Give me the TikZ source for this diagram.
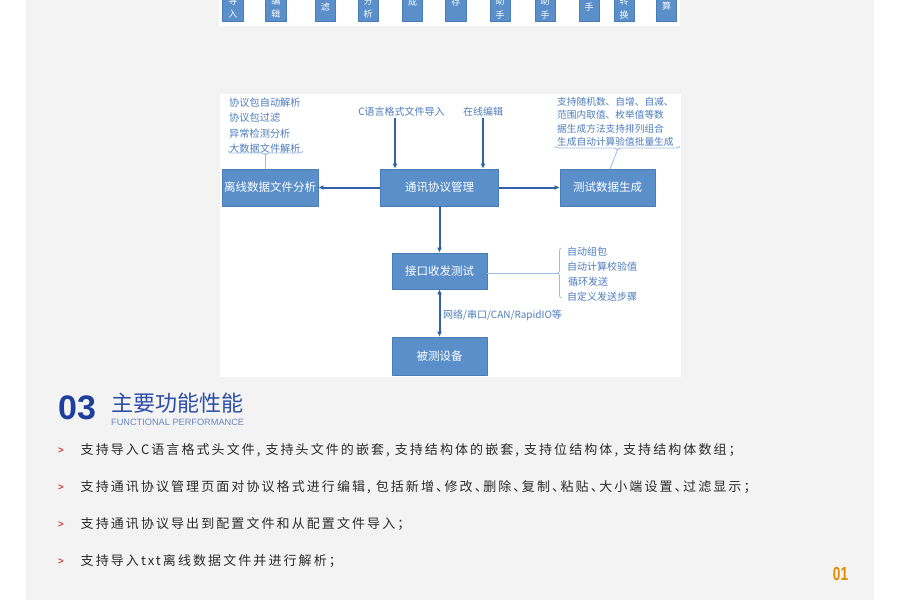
\documentclass[tikz,border=0pt]{standalone}
\usepackage{fontspec}
\setmainfont{Noto Sans CJK SC}
\newfontfamily\arialfont{Liberation Sans}
\newfontfamily\bodyfont[LetterSpace=16]{Noto Sans CJK SC}
\usetikzlibrary{arrows.meta,decorations.pathreplacing}
\definecolor{pagegray}{HTML}{F3F3F3}
\definecolor{boxfill}{HTML}{5B8FCA}
\definecolor{boxline}{HTML}{4A7DB8}
\definecolor{arrowblue}{HTML}{2F63A5}
\definecolor{labelblue}{HTML}{4D7DBD}
\definecolor{bracketblue}{HTML}{9DBBE0}
\definecolor{titleblue}{HTML}{1F3F9C}
\definecolor{headblue}{HTML}{2D4EA6}
\definecolor{subblue}{HTML}{6A86C4}
\definecolor{bulletred}{HTML}{D23A3A}
\definecolor{bodygray}{HTML}{2B2B2B}
\definecolor{pageorange}{HTML}{E38B00}
\newcommand{\dunhao}{、\kern-4.5pt}
\begin{document}
\begin{tikzpicture}[x=1pt,y=-1pt,
  blockbox/.style={draw=boxline, fill=boxfill, text=white, line width=0.8pt, inner sep=0pt, font=\fontsize{11.5}{14}\selectfont, minimum height=37pt},
  mainarrow/.style={draw=arrowblue, line width=2pt, -{Latex[length=5pt,width=5pt]}},
  listtext/.style={text=labelblue, inner sep=0pt, anchor=west, font=\fontsize{10}{12}\selectfont},
  bracketline/.style={draw=bracketblue, line width=0.8pt},
  bracebr/.style={bracketline, decorate, decoration={brace, amplitude=4pt}},
  striptext/.style={text=white, inner sep=0pt, font=\fontsize{9}{10}\selectfont},
  bullettext/.style={text=bodygray, inner sep=0pt, anchor=west, font=\bodyfont\fontsize{13}{16}\selectfont},
  bulletmark/.style={text=bulletred, inner sep=0pt, font=\arialfont\bfseries\fontsize{9.5}{10}\selectfont}
]
\useasboundingbox (0,0) rectangle (900,600);
\clip (0,0) rectangle (900,600);
\fill[white] (0,0) rectangle (900,600);
\fill[pagegray] (26,0) rectangle (874,600);

% top strip
\fill[white] (219,0) rectangle (680,26);
\foreach \xa/\xb in {222.7/243, 265.7/286, 315/335.7, 358/378, 402.7/422.7, 445.7/466, 490/510, 535/555, 579/599, 614/634, 656.7/676.7}
  \filldraw[fill=boxfill, draw=boxline, line width=0.5pt] (\xa,-5) rectangle (\xb,21.7);
\node[striptext] (s1a) at (232.8,1) {导};
\node[striptext] (s1b) at (232.8,14.5) {入};
\node[striptext] (s2a) at (275.8,1) {编};
\node[striptext] (s2b) at (275.8,14.5) {辑};
\node[striptext] (s3) at (325.3,7) {滤};
\node[striptext] (s4a) at (368,1) {分};
\node[striptext] (s4b) at (368,14.5) {析};
\node[striptext] (s5) at (412.7,2) {成};
\node[striptext] (s6) at (455.8,2) {存};
\node[striptext] (s7a) at (500,1) {助};
\node[striptext] (s7b) at (500,15) {手};
\node[striptext] (s8a) at (545,1) {助};
\node[striptext] (s8b) at (545,15) {手};
\node[striptext] (s9) at (589,7) {手};
\node[striptext] (s10a) at (624,1.5) {转};
\node[striptext] (s10b) at (624,15) {换};
\node[striptext] (s11) at (666.7,6) {算};

% diagram panel
\fill[white] (220,94) rectangle (681,377);

\node[blockbox, minimum width=96pt] (off) at (270,187.5) {离线数据文件分析};
\node[blockbox, minimum width=118pt] (mgr) at (439.5,187.5) {通讯协议管理};
\node[blockbox, minimum width=95pt] (gen) at (607.5,187.5) {测试数据生成};
\node[blockbox, minimum width=95pt, minimum height=36pt] (io) at (439.5,271) {接口收发测试};
\node[blockbox, minimum width=95pt, minimum height=38pt] (dut) at (439.5,356) {被测设备};

\node[listtext, anchor=center, inner sep=1pt] (cin) at (401.5,112) {C语言格式文件导入};
\node[listtext, anchor=center, inner sep=1pt] (online) at (483,112) {在线编辑};

\draw[mainarrow] ([xshift=-6.5pt]cin.south) -- ([xshift=-6.5pt]cin.south |- mgr.north);
\draw[mainarrow] (online.south) -- (online.south |- mgr.north);
\draw[mainarrow] (mgr) -- (off);
\draw[mainarrow] (mgr) -- (gen);
\draw[mainarrow] (mgr) -- (io);
\draw[mainarrow, {Latex[length=5pt,width=5pt]}-{Latex[length=5pt,width=5pt]}] (io) -- (dut);
\node[listtext, font=\fontsize{10}{12}\selectfont] (net) at (443,315) {网络/串口/CAN/RapidIO等};

% left list
\node[listtext, font=\fontsize{10.2}{12}\selectfont] (la) at (229,102.5) {协议包自动解析};
\node[listtext, font=\fontsize{10.2}{12}\selectfont] (lb) at (229,118) {协议包过滤};
\node[listtext, font=\fontsize{10.2}{12}\selectfont] (lc) at (229,133.5) {异常检测分析};
\node[listtext, font=\fontsize{10.2}{12}\selectfont] (ld) at (229,148.5) {大数据文件解析};
\draw[bracebr, decoration={mirror}] (228,151) -- (303,151);
\coordinate (lbt) at (265.5,155);
\draw[bracketline] (lbt) -- (lbt |- off.north);

% right list
\node[listtext, font=\fontsize{9.7}{12}\selectfont] (ra) at (557,101.5) {支持随机数、自增、自减、};
\node[listtext, font=\fontsize{9.7}{12}\selectfont] (rb) at (557,115) {范围内取值、枚举值等数};
\node[listtext, font=\fontsize{9.7}{12}\selectfont] (rc) at (557,128.5) {据生成方法支持排列组合};
\node[listtext, font=\fontsize{9.7}{12}\selectfont] (rd) at (557,142) {生成自动计算验值批量生成};
\draw[bracebr, decoration={mirror}] (555,146) -- (680,146);
\coordinate (rbt) at (617.5,150);
\coordinate (rbend) at (610,169);
\draw[bracketline] (rbt) -- (rbend);

% bottom-right list
\node[listtext] (ba) at (567,252) {自动组包};
\node[listtext] (bb) at (567,267) {自动计算校验值};
\node[listtext] (bc) at (568,282) {循环发送};
\node[listtext] (bd) at (567,297) {自定义发送步骤};
\draw[bracebr, decoration={amplitude=3pt}] (561,298) -- (561,248);
\coordinate (bbt) at (558,273);
\draw[bracketline] (io.east |- bbt) -- (bbt);

% heading
\node[anchor=west, inner sep=0pt, text=titleblue, font=\arialfont\bfseries\fontsize{34}{34}\selectfont] (num) at (58,408) {03};
\node[anchor=west, inner sep=0pt, text=headblue, font=\fontsize{22}{24}\selectfont] (head) at (111,403.5) {主要功能性能};
\node[anchor=west, inner sep=0pt, text=subblue, font=\arialfont\fontsize{9.2}{10}\selectfont] (sub) at (111,422.5) {FUNCTIONAL PERFORMANCE};

% bullets
\node[bulletmark] (m1) at (61,451) {>};
\node[bullettext] (t1) at (80.5,450) {支持导入C语言格式头文件, 支持头文件的嵌套, 支持结构体的嵌套, 支持位结构体, 支持结构体数组；};
\node[bulletmark] (m2) at (61,488) {>};
\node[bullettext] (t2) at (80.5,487) {支持通讯协议管理页面对协议格式进行编辑, 包括新增\dunhao 修改\dunhao 删除\dunhao 复制\dunhao 粘贴\dunhao 大小端设置\dunhao 过滤显示；};
\node[bulletmark] (m3) at (61,525) {>};
\node[bullettext] (t3) at (80.5,524) {支持通讯协议导出到配置文件和从配置文件导入；};
\node[bulletmark] (m4) at (61,562) {>};
\node[bullettext] (t4) at (80.5,561.5) {支持导入txt离线数据文件并进行解析；};

\node[inner sep=0pt, text=pageorange, font=\arialfont\bfseries\fontsize{19}{19}\selectfont] (pg) at (840.5,574) {\scalebox{0.72}[1]{01}};
\end{tikzpicture}
\end{document}
